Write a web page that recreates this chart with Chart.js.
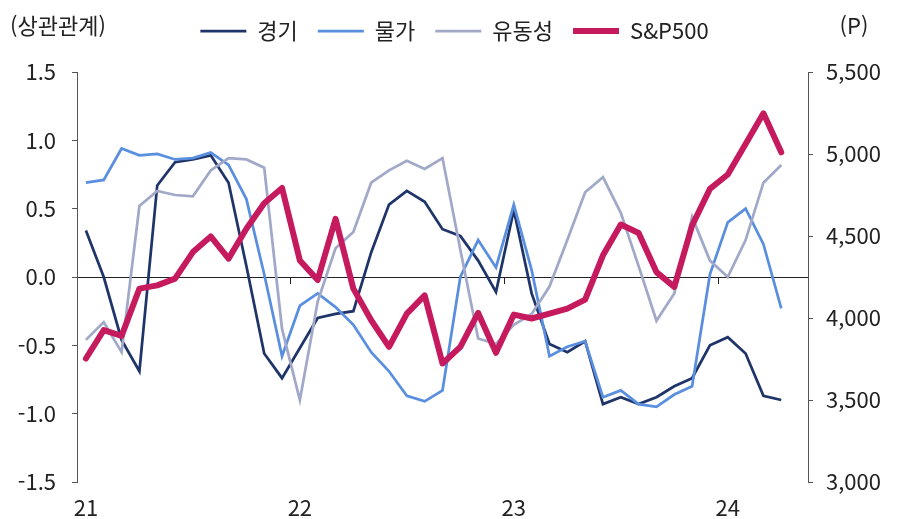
<!DOCTYPE html>
<html lang="ko">
<head>
<meta charset="utf-8">
<script src="https://cdn.jsdelivr.net/npm/chart.js@4.4.1/dist/chart.umd.min.js"></script>
<style>
  html, body { margin: 0; padding: 0; background: #fff; }
  #wrap { width: 909px; height: 519px; }
</style>
</head>
<body>
<div id="wrap"><canvas id="myChart"></canvas></div>
<script>
// monthly, Jan 2021 .. May 2024 (last slot left empty like the original)
var months = [
  '21.01', '21.02', '21.03', '21.04', '21.05', '21.06', '21.07', '21.08', '21.09', '21.10', '21.11', '21.12',
  '22.01', '22.02', '22.03', '22.04', '22.05', '22.06', '22.07', '22.08', '22.09', '22.10', '22.11', '22.12',
  '23.01', '23.02', '23.03', '23.04', '23.05', '23.06', '23.07', '23.08', '23.09', '23.10', '23.11', '23.12',
  '24.01', '24.02', '24.03', '24.04', '24.05'
];

// correlation with S&P500 (left axis)
var economy = [0.34, 0.00, -0.46, -0.69, 0.67, 0.84, 0.86, 0.89, 0.69, 0.08, -0.56, -0.74,
  -0.52, -0.30, -0.27, -0.25, 0.18, 0.53, 0.63, 0.55, 0.35, 0.30, 0.12, -0.11,
  0.49, -0.12, -0.49, -0.55, -0.47, -0.93, -0.88, -0.93, -0.88, -0.80, -0.74, -0.50,
  -0.44, -0.56, -0.87, -0.90];
var price = [0.69, 0.71, 0.94, 0.89, 0.90, 0.86, 0.87, 0.91, 0.82, 0.57, 0.02, -0.58,
  -0.21, -0.12, -0.22, -0.35, -0.55, -0.69, -0.87, -0.91, -0.83, 0.00, 0.27, 0.07,
  0.53, 0.05, -0.58, -0.51, -0.47, -0.88, -0.83, -0.93, -0.95, -0.86, -0.80, 0.02,
  0.40, 0.50, 0.24, -0.23];
var liquidity = [-0.46, -0.33, -0.55, 0.52, 0.63, 0.60, 0.59, 0.78, 0.87, 0.86, 0.80, -0.38,
  -0.90, -0.18, 0.21, 0.33, 0.69, 0.78, 0.85, 0.79, 0.87, 0.20, -0.45, -0.49,
  -0.35, -0.27, -0.07, 0.27, 0.62, 0.73, 0.47, 0.08, -0.32, -0.12, 0.44, 0.12,
  0.00, 0.27, 0.69, 0.82];

// S&P500 index, points (right axis)
var sp500 = [3753, 3926, 3891, 4179, 4199, 4240, 4402, 4497, 4362, 4544, 4700, 4793,
  4351, 4232, 4605, 4179, 3986, 3824, 4027, 4138, 3723, 3824, 4031, 3788,
  4021, 3997, 4027, 4057, 4112, 4382, 4570, 4518, 4280, 4190, 4564, 4787,
  4875, 5061, 5248, 5010];

var fontFamily = '"Noto Sans CJK KR", "Noto Sans", sans-serif';
var textColor = '#222';

Chart.defaults.font.family = fontFamily;
Chart.defaults.font.size = 22;
Chart.defaults.color = textColor;

// push plot area down below the legend
var legendSpace = {
  id: 'legendSpace',
  beforeInit: function (chart) {
    var origFit = chart.legend.fit;
    chart.legend.fit = function () {
      origFit.call(this);
      this.height += 20;
    };
  }
};

// unit captions above both axes
var axisTitles = {
  id: 'axisTitles',
  afterDraw: function (chart) {
    var ctx = chart.ctx;
    var right = chart.scales.y1;
    ctx.save();
    ctx.font = '22px ' + fontFamily;
    ctx.fillStyle = textColor;
    ctx.textBaseline = 'middle';
    ctx.textAlign = 'left';
    ctx.fillText('(상관관계)', 10, 26);
    ctx.textAlign = 'center';
    ctx.fillText('(P)', right.left + 46, 26);
    ctx.restore();
  }
};

var ctx = document.getElementById('myChart').getContext('2d');
var myChart = new Chart(ctx, {
  type: 'line',
  data: {
    labels: months,
    datasets: [
      { label: '경기', data: economy, borderColor: '#1F3468', backgroundColor: '#1F3468',
        borderWidth: 2.75, pointRadius: 0, yAxisID: 'y', order: 4 },
      { label: '물가', data: price, borderColor: '#5A8FE0', backgroundColor: '#5A8FE0',
        borderWidth: 2.75, pointRadius: 0, yAxisID: 'y', order: 3 },
      { label: '유동성', data: liquidity, borderColor: '#A2A9C8', backgroundColor: '#A2A9C8',
        borderWidth: 2.75, pointRadius: 0, yAxisID: 'y', order: 2 },
      { label: 'S&P500', data: sp500, borderColor: '#C51A5D', backgroundColor: '#C51A5D',
        borderWidth: 6, pointRadius: 0, yAxisID: 'y1', order: 1,
        borderCapStyle: 'round', borderJoinStyle: 'round' }
    ]
  },
  options: {
    responsive: true,
    maintainAspectRatio: false,
    animation: false,
    layout: { padding: { top: 0, left: 0, right: 0, bottom: 0 } },
    plugins: {
      tooltip: { enabled: false },
      legend: {
        position: 'top',
        labels: {
          usePointStyle: true,
          pointStyle: 'line',
          pointStyleWidth: 46,
          padding: 20,
          color: textColor,
          font: { size: 22 },
          sort: function (a, b) { return a.datasetIndex - b.datasetIndex; }
        }
      }
    },
    scales: {
      x: {
        type: 'category',
        position: 'bottom',
        offset: true,
        grid: { display: false, drawTicks: false },
        border: { display: false },
        ticks: {
          autoSkip: false,
          maxRotation: 0,
          padding: 12,
          callback: function (value, index) {
            return index % 12 === 0 ? months[index].slice(0, 2) : '';
          }
        },
        afterFit: function (scale) { scale.height = 37; }
      },
      x2: {
        type: 'category',
        axis: 'x',
        position: { y: 0 },
        offset: true,
        grid: {
          offset: true,
          drawOnChartArea: false,
          drawTicks: true,
          tickLength: 6,
          lineWidth: 1,
          color: function (c) {
            return (c.index > 0 && c.index % 12 === 0) ? '#222' : 'rgba(0,0,0,0)';
          }
        },
        border: { display: true, color: '#222', width: 1 },
        ticks: { display: false }
      },
      y: {
        position: 'left',
        min: -1.5,
        max: 1.5,
        grid: { drawOnChartArea: false, tickLength: 5, color: '#555' },
        border: { color: '#555', width: 1 },
        ticks: {
          stepSize: 0.5,
          padding: 16,
          callback: function (v) { return v.toFixed(1); }
        },
        afterFit: function (scale) { scale.width = 77; }
      },
      y1: {
        position: 'right',
        min: 3000,
        max: 5500,
        grid: { drawOnChartArea: false, tickLength: 5, color: '#555' },
        border: { color: '#555', width: 1 },
        ticks: {
          stepSize: 500,
          padding: 13,
          callback: function (v) { return v.toLocaleString('en-US'); }
        },
        afterFit: function (scale) { scale.width = 101; }
      }
    }
  },
  plugins: [legendSpace, axisTitles]
});
</script>
</body>
</html>
